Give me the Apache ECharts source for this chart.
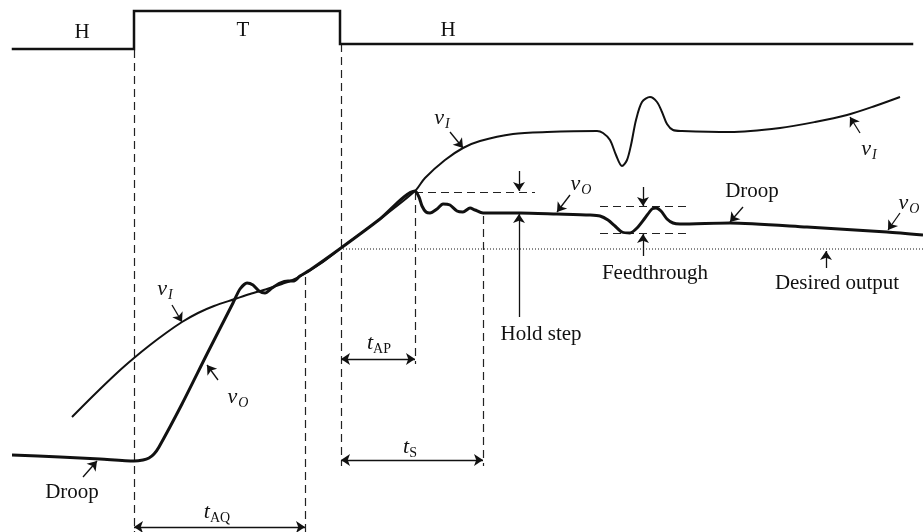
<!DOCTYPE html>
<html>
<head>
<meta charset="utf-8">
<script src="https://cdn.jsdelivr.net/npm/echarts@6/dist/echarts.min.js"></script>
<style>
  html, body { margin: 0; padding: 0; background: #fff; }
  #chart { width: 923px; height: 532px; }
</style>
</head>
<body>
<div id="chart"></div>
<script>
// Sample-and-hold timing: control signal, input vI and output vO.
// Units: horizontal = time, vertical = level (screen-down axis).

// Track/hold control waveform (H - T - H)
const controlSignal = [[13, 49], [134, 49], [134, 11], [340, 11], [340, 44], [912, 44]];

// Input signal vI
const inputSignal = [
  [72, 417], [95, 394], [118, 372], [134, 358], [150, 345], [166, 333], [182, 322],
  [198, 313], [214, 306], [235, 299], [250, 294], [267, 289], [282, 284], [297, 278],
  [320, 264], [341, 248], [380, 219], [415, 191], [425, 178], [445, 160], [463, 148],
  [480, 141], [513, 134], [547, 132], [597, 131], [603, 133], [610, 140], [616, 155],
  [622, 166], [627, 160], [631, 145], [636, 120], [642, 102], [650, 97], [657, 102],
  [662, 112], [667, 124], [673, 130], [682, 131], [730, 132], [780, 128], [815, 122],
  [847, 115], [875, 106], [900, 97]
];

// Output signal vO
const outputSignal = [
  [12, 455], [60, 457], [100, 459], [134, 461], [143, 460], [149, 458], [154, 454],
  [159, 447], [182, 404], [207, 354], [233, 303], [240, 289], [247, 283], [253, 285],
  [259, 291], [265, 293], [272, 288], [280, 283], [288, 281], [294, 281], [300, 276],
  [310, 270], [341, 248], [380, 219], [415, 191], [419, 197], [422, 206], [426, 212],
  [430, 213], [437, 209], [443, 204], [450, 205], [457, 211], [463, 212], [470, 208],
  [475, 210], [483, 213], [520, 213], [557, 214], [590, 215], [600, 216], [608, 220],
  [615, 226], [622, 232], [630, 233], [637, 228], [645, 218], [652, 209], [656, 208],
  [661, 211], [667, 219], [673, 223], [680, 224], [730, 223], [807, 227], [887, 232],
  [923, 235]
];

// Desired output level
const desiredLevel = [[343, 249], [923, 249]];

// Timing reference lines (dashed)
const timingMarks = [
  [[134, 50], [134, 532]],
  [[341, 44], [341, 466]],
  [[415, 192], [415, 364]],
  [[305, 277], [305, 532]],
  [[483, 216], [483, 466]],
  [[415, 192], [535, 192]],
  [[600, 206], [688, 206]],
  [[600, 233], [688, 233]]
];

// Pointer arrows
const pointers = [
  [[172, 305], [182, 322]],
  [[218, 380], [207, 365]],
  [[83, 477], [97, 461]],
  [[450, 132], [463, 148]],
  [[570, 195], [557, 212]],
  [[519, 171], [519, 191]],
  [[519, 317], [519, 214]],
  [[643, 187], [643, 206]],
  [[643, 256], [643, 234]],
  [[743, 207], [730, 222]],
  [[860, 133], [850, 117]],
  [[900, 213], [888, 230]],
  [[826, 268], [826, 251]]
];

// Interval spans (double arrows)
const spans = [
  [[134, 527], [305, 527]],
  [[341, 359], [415, 359]],
  [[341, 460], [483, 460]]
];

// Text annotations: [x, y, text]
const annotations = [
  [82, 32, 'H'],
  [243, 30, 'T'],
  [448, 30, 'H'],
  [165, 289, '{v|v}{s|I}'],
  [238, 397, '{v|v}{s|O}'],
  [72, 492, 'Droop'],
  [217, 512, '{t|t}{u|AQ}'],
  [442, 118, '{v|v}{s|I}'],
  [581, 184, '{v|v}{s|O}'],
  [541, 334, 'Hold step'],
  [379, 343, '{t|t}{u|AP}'],
  [410, 447, '{t|t}{u|S}'],
  [655, 273, 'Feedthrough'],
  [752, 191, 'Droop'],
  [837, 283, 'Desired output'],
  [869, 149, '{v|v}{s|I}'],
  [909, 203, '{v|v}{s|O}']
];

const ink = '#111';
const serif = 'Liberation Serif';

const chart = echarts.init(document.getElementById('chart'), null, { renderer: 'canvas' });

const segmentSeries = (name, segs, style, symbols) => ({
  name,
  type: 'lines',
  coordinateSystem: 'cartesian2d',
  silent: true,
  symbol: symbols,
  symbolSize: 9,
  lineStyle: Object.assign({ opacity: 1, curveness: 0 }, style),
  data: segs.map(c => ({ coords: c }))
});

chart.setOption({
  animation: false,
  backgroundColor: '#fff',
  grid: { left: 0, right: 0, top: 0, bottom: 0 },
  xAxis: { type: 'value', min: 0, max: 923, show: false },
  yAxis: { type: 'value', min: 0, max: 532, inverse: true, show: false },
  series: [
    {
      name: 'control', type: 'line', data: controlSignal, symbol: 'none', silent: true,
      lineStyle: { color: ink, width: 2.5, cap: 'square', join: 'miter' }
    },
    {
      name: 'desired', type: 'line', data: desiredLevel, symbol: 'none', silent: true,
      lineStyle: { color: ink, width: 1, type: [1, 2] }
    },
    segmentSeries('timing', timingMarks, { color: '#222', width: 1.2, type: [8, 5] }, ['none', 'none']),
    {
      name: 'vI', type: 'line', data: inputSignal, symbol: 'none', smooth: 0.3, silent: true,
      lineStyle: { color: ink, width: 2 }
    },
    {
      name: 'vO', type: 'line', data: outputSignal, symbol: 'none', smooth: 0.25, silent: true,
      lineStyle: { color: ink, width: 3 }
    },
    segmentSeries('pointers', pointers, { color: ink, width: 1.3 }, ['none', 'arrow']),
    segmentSeries('spans', spans, { color: ink, width: 1.3 }, ['arrow', 'arrow']),
    {
      name: 'labels', type: 'scatter', silent: true, symbolSize: 1,
      itemStyle: { color: 'rgba(0,0,0,0)', opacity: 1 },
      data: annotations.map(a => ({ value: [a[0], a[1]], text: a[2] })),
      label: {
        show: true,
        position: 'inside',
        color: ink,
        opacity: 1,
        fontFamily: serif,
        fontSize: 21,
        formatter: p => p.data.text,
        rich: {
          v: { fontFamily: serif, fontStyle: 'italic', fontSize: 22, lineHeight: 26, color: ink },
          s: { fontFamily: serif, fontStyle: 'italic', fontSize: 14, lineHeight: 14, padding: [12, 0, 0, 1], color: ink },
          t: { fontFamily: serif, fontStyle: 'italic', fontSize: 22, lineHeight: 26, color: ink },
          u: { fontFamily: serif, fontSize: 14, lineHeight: 14, padding: [12, 0, 0, 0], color: ink }
        }
      }
    }
  ]
});
</script>
</body>
</html>
